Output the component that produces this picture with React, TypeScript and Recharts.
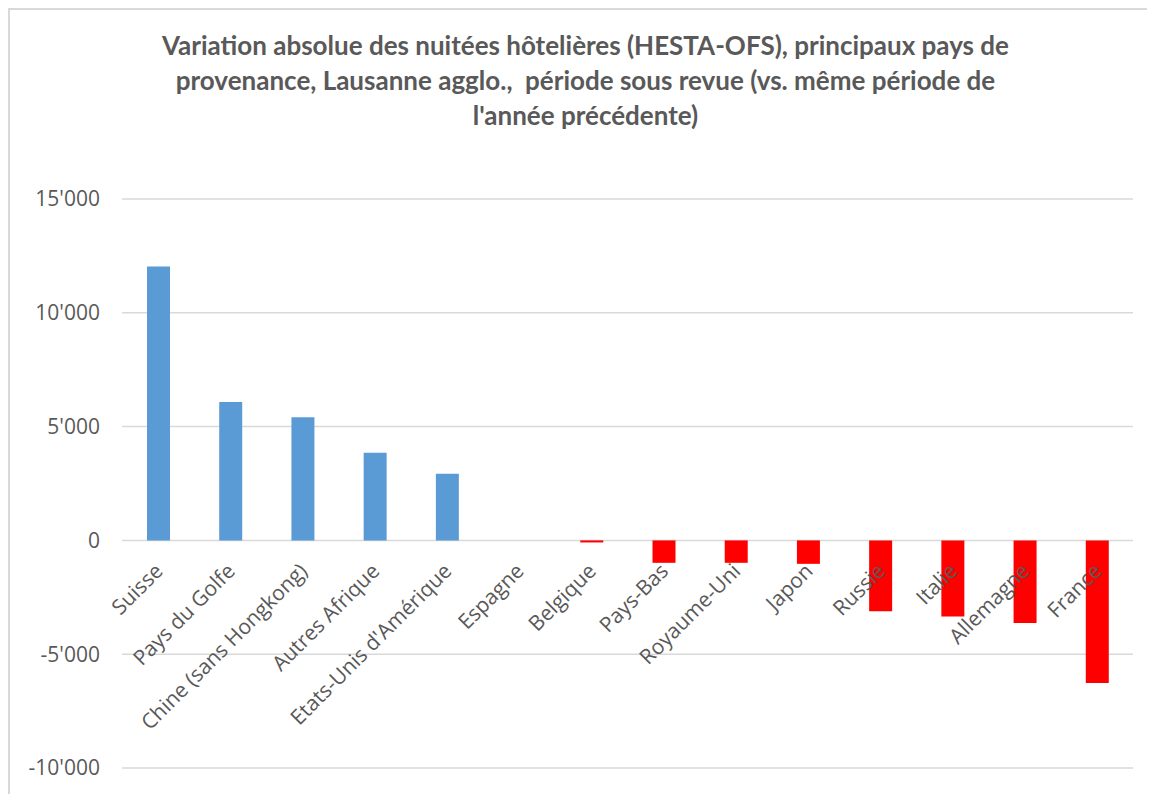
import React from 'react';
import { BarChart, Bar, XAxis, YAxis, CartesianGrid, Cell } from 'recharts';

const categories = [
  'Suisse',
  'Pays du Golfe',
  'Chine (sans Hongkong)',
  'Autres Afrique',
  "Etats-Unis d'Amérique",
  'Espagne',
  'Belgique',
  'Pays-Bas',
  'Royaume-Uni',
  'Japon',
  'Russie',
  'Italie',
  'Allemagne',
  'France',
];
const variations = [12030, 6080, 5410, 3850, 2930, 0, -90, -985, -985, -1030, -3110, -3340, -3630, -6260];
const yTicks = [-10000, -5000, 0, 5000, 10000, 15000];
const titleLines = [
  'Variation absolue des nuitées hôtelières (HESTA-OFS), principaux pays de',
  'provenance, Lausanne agglo.,  période sous revue (vs. même période de',
  "l'année précédente)",
];

const POS_COLOR = '#5B9BD5';
const NEG_COLOR = '#FF0000';
const TEXT_COLOR = '#595959';
const GRID_COLOR = '#D9D9D9';

const CHART_W = 1147;
const CHART_H = 786;
const X_AXIS_H = 10;
const MARGIN = { top: 191, right: 22, bottom: 16, left: 0 };
const Y_MIN = -10000;
const Y_MAX = 15000;

const data = categories.map((name, i) => ({ name, value: variations[i] }));

const fmt = (v: number) => {
  const s = Math.abs(v).toString().replace(/\B(?=(\d{3})+(?!\d))/g, "'");
  return (v < 0 ? '-' : '') + s;
};

// y pixel of the zero line inside the plot area (category axis crosses at 0)
const plotTop = MARGIN.top;
const plotBottom = CHART_H - MARGIN.bottom - X_AXIS_H;
const zeroY = plotTop + ((Y_MAX - 0) / (Y_MAX - Y_MIN)) * (plotBottom - plotTop);

const renderCategoryTick = (props: any) => {
  const { x, payload } = props;
  const cx = Number(x) + 6;
  const ty = zeroY + 32;
  return (
    <text
      key={`cat-${payload.value}`}
      x={cx}
      y={ty}
      transform={`rotate(-45, ${cx}, ${ty})`}
      textAnchor="end"
      fill={TEXT_COLOR}
      fontSize={21}
      fontFamily="'Open Sans', sans-serif"
    >
      {payload.value}
    </text>
  );
};

export default function App() {
  return (
    <div style={{ position: 'relative', width: CHART_W, height: CHART_H, background: '#fff' }}>
      <div
        style={{
          position: 'absolute',
          left: 0,
          top: 0,
          width: CHART_W,
          height: CHART_H,
          borderTop: `2px solid ${GRID_COLOR}`,
          borderLeft: `2px solid ${GRID_COLOR}`,
          boxSizing: 'border-box',
          pointerEvents: 'none',
        }}
      />
      <div
        style={{
          position: 'absolute',
          left: 0,
          top: 20,
          width: 1155,
          textAlign: 'center',
          fontFamily: 'Lato, sans-serif',
          fontWeight: 700,
          fontSize: 26,
          lineHeight: '35px',
          color: TEXT_COLOR,
          whiteSpace: 'pre',
        }}
      >
        {titleLines.map((l, i) => (
          <div key={i}>{l}</div>
        ))}
      </div>
      <BarChart
        width={CHART_W}
        height={CHART_H}
        data={data}
        margin={MARGIN}
        style={{ position: 'absolute', left: 0, top: 0 }}
      >
        <CartesianGrid vertical={false} stroke={GRID_COLOR} strokeWidth={1.5} />
        <XAxis
          dataKey="name"
          height={X_AXIS_H}
          axisLine={false}
          tickLine={false}
          interval={0}
          tick={renderCategoryTick}
        />
        <YAxis
          width={114}
          domain={[Y_MIN, Y_MAX]}
          ticks={yTicks}
          tickFormatter={fmt}
          axisLine={false}
          tickLine={false}
          tickSize={0}
          tickMargin={22}
          tick={{ fill: TEXT_COLOR, fontSize: 21, fontFamily: "'Open Sans', sans-serif" }}
        />
        <Bar dataKey="value" barSize={23} isAnimationActive={false}>
          {data.map((d, i) => (
            <Cell key={i} fill={d.value >= 0 ? POS_COLOR : NEG_COLOR} />
          ))}
        </Bar>
      </BarChart>
    </div>
  );
}
